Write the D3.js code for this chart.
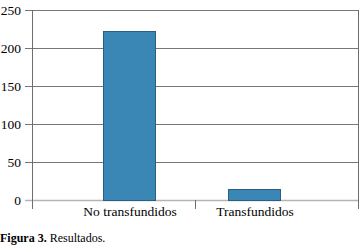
<!DOCTYPE html>
<html><head><meta charset="utf-8">
<script src="https://cdn.jsdelivr.net/npm/d3@7"></script>
<style>
html,body{margin:0;padding:0;background:#fff;}
svg{display:block;}
svg text{font-family:"Liberation Serif","Times New Roman",Times,serif;}
</style></head>
<body>
<svg id="c" width="361" height="247"></svg>
<script>
const categories = ["No transfundidos", "Transfundidos"];
const values = [222, 15];
const yTicks = [0, 50, 100, 150, 200, 250];
const captionBold = "Figura 3.";
const captionText = " Resultados.";

const svg = d3.select("#c");

const y = d3.scaleLinear().domain([0, 250]).range([200, 10]);
// frame scale for category boundary ticks
const xFrame = d3.scaleBand().domain(categories).range([32, 359]);
// scale for bars / labels (as in reference)
const x = d3.scaleBand().domain(categories).range([66.5, 316.5]).paddingInner(0.584).paddingOuter(0.292);

// gridlines
svg.append("g").selectAll("line").data(yTicks.filter(d => d > 0)).join("line")
  .attr("x1", 25).attr("x2", 359)
  .attr("y1", d => Math.round(y(d)) + 0.5).attr("y2", d => Math.round(y(d)) + 0.5)
  .attr("stroke", "#777").attr("stroke-width", 1);

// zero line
svg.append("line").attr("x1", 25).attr("x2", 359)
  .attr("y1", y(0) + 0.5).attr("y2", y(0) + 0.5)
  .attr("stroke", "#b4b4b4").attr("stroke-width", 1.6);

// y tick labels
svg.append("g").selectAll("text").data(yTicks).join("text")
  .attr("x", 21).attr("y", d => Math.round(y(d)) + 5)
  .attr("text-anchor", "end")
  .style("font-size", "13.5px").attr("fill", "#000")
  .text(d => d);

// bars
svg.append("g").selectAll("rect").data(values).join("rect")
  .attr("x", (d, i) => Math.round(x(categories[i])) + 0.5)
  .attr("width", Math.round(x.bandwidth()))
  .attr("y", d => Math.round(y(d)) + 0.5)
  .attr("height", d => y(0) - Math.round(y(d)))
  .attr("fill", "#3a87b6").attr("stroke", "#2b5f82").attr("stroke-width", 1);

// left axis line
svg.append("line").attr("x1", 32.5).attr("x2", 32.5).attr("y1", 10).attr("y2", 209)
  .attr("stroke", "#6e6e6e").attr("stroke-width", 1);

// category boundary ticks
svg.append("g").selectAll("line").data(categories).join("line")
  .attr("x1", d => Math.round(xFrame(d) + xFrame.bandwidth()) - 0.5)
  .attr("x2", d => Math.round(xFrame(d) + xFrame.bandwidth()) - 0.5)
  .attr("y1", d => categories.indexOf(d) === categories.length - 1 ? 10 : 200)
  .attr("y2", 209)
  .attr("stroke", "#6e6e6e").attr("stroke-width", 1);

// x labels
svg.append("g").selectAll("text").data(categories).join("text")
  .attr("x", d => x(d) + x.bandwidth() / 2 + 1)
  .attr("y", 216)
  .attr("text-anchor", "middle")
  .style("font-size", "13.5px").attr("fill", "#000")
  .text(d => d);

// caption
const cap = svg.append("text").attr("x", 0).attr("y", 242)
  .style("font-size", "12px").attr("fill", "#000");
cap.append("tspan").style("font-weight", "bold").text(captionBold);
cap.append("tspan").text(captionText);
</script>
</body></html>
